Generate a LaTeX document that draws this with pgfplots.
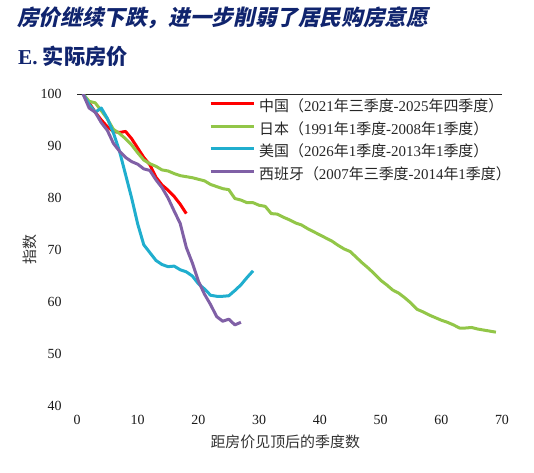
\documentclass[border=0pt]{standalone}
\usepackage{fontspec}
\setmainfont{Liberation Serif}
\newfontfamily\cjk{Noto Sans CJK SC}
\newfontfamily\cjkbi{Noto Sans CJK SC}[FakeSlant=0.22]
\usepackage{pgfplots}
\pgfplotsset{compat=1.18}
\definecolor{navy}{RGB}{16,36,110}
\definecolor{cred}{RGB}{255,0,0}
\definecolor{cgreen}{RGB}{146,198,72}
\definecolor{ccyan}{RGB}{32,174,206}
\definecolor{cpurple}{RGB}{128,96,166}
\begin{document}
\begin{tikzpicture}
\path[use as bounding box] (0,0) rectangle (534bp,473bp);
\node[anchor=west, text=navy, inner sep=0pt] at (17bp,455.5bp) {\fontsize{21.7}{24}\selectfont\cjkbi\bfseries 房价继续下跌，进一步削弱了居民购房意愿};
\node[anchor=west, text=navy, inner sep=0pt] at (18bp,417bp) {\fontsize{21.3}{24}\selectfont\bfseries E. {\cjk\bfseries 实际房价}};
\begin{axis}[
  at={(77bp,67bp)}, anchor=south west,
  scale only axis, width=425bp, height=312bp,
  xmin=0, xmax=70, ymin=40, ymax=100,
  axis line style={draw=none},
  major tick length=0pt,
  xtick={0,10,...,70}, ytick={40,50,...,100},
  /pgf/number format/assume math mode=true,
  tick label style={font=\fontsize{14}{16}\selectfont, text=black!90},
  xticklabel style={anchor=base, yshift=-18bp},
  yticklabel style={anchor=east, xshift=-12bp},
  xlabel={\cjk 距房价见顶后的季度数},
  ylabel={\cjk 指数},
  label style={font=\fontsize{15}{17}\selectfont, text=black!80},
  xlabel style={at={(axis description cs:0.49,-0.114)}, anchor=center},
  ylabel style={at={(axis description cs:-0.11,0.5)}, anchor=center},
  legend style={at={(axis description cs:0.3106,0.98)}, anchor=north west,
    draw=none, fill=none, inner sep=0pt, font=\fontsize{15}{17}\selectfont,
    nodes={inner sep=0pt, text height=11bp, text depth=3bp, text=black!85},
    /tikz/row sep=8.7bp, /tikz/column sep=4bp},
  legend cell align=left,
  legend image code/.code={\draw[#1] (0bp,4bp) -- (43bp,4bp);},
  every axis plot/.append style={line width=3bp, line join=round},
]
\addplot[black!85, line width=0.8pt, forget plot] coordinates {(0,100) (70,100)};
\addplot[cred] coordinates {
(1,100) (2,98.3) (3,96.5) (4,95) (5,93.7) (6,92.8) (7,92.6) (8,92.8) (9,91.4)
(10,89.6) (11,87.8) (12,86.4) (13,84) (14,82.5) (15,81.5) (16,80.3) (17,78.8) (18,77)};
\addlegendentry{{\cjk 中国（}2021{\cjk 年三季度}-2025{\cjk 年四季度）}}
\addplot[cgreen] coordinates {
(1,100) (2,98.6) (3,98.3) (4,96.8) (5,95.2) (6,93.2) (7,92.4) (8,91.4) (9,90.2)
(10,88.7) (11,87.3) (12,86.6) (13,86.1) (14,85.4) (15,85.2) (16,84.7) (17,84.3)
(18,84.1) (19,83.9) (20,83.6) (21,83.3) (22,82.6) (23,82.2) (24,81.8) (25,81.6)
(26,79.9) (27,79.6) (28,79.1) (29,79.1) (30,78.6) (31,78.4) (32,77.0) (33,76.9)
(34,76.3) (35,75.8) (36,75.2) (37,74.8) (38,74.1) (39,73.5) (40,72.9) (41,72.3)
(42,71.7) (43,70.9) (44,70.2) (45,69.7) (46,68.6) (47,67.5) (48,66.5) (49,65.4)
(50,64.2) (51,63.3) (52,62.3) (53,61.7) (54,60.8) (55,59.8) (56,58.6) (57,58.1)
(58,57.5) (59,57.0) (60,56.5) (61,56.1) (62,55.6) (63,55.0) (64,55.0) (65,55.1)
(66,54.8) (67,54.6) (68,54.4) (69,54.2)};
\addlegendentry{{\cjk 日本（}1991{\cjk 年}1{\cjk 季度}-2008{\cjk 年}1{\cjk 季度）}}
\addplot[ccyan] coordinates {
(1,100) (2,98) (3,96.5) (4,97.3) (5,95.3) (6,92.5) (7,89) (8,84.5) (9,80)
(10,75) (11,71) (12,69.5) (13,68) (14,67.2) (15,66.8) (16,66.9) (17,66.2)
(18,65.8) (19,65) (20,63.5) (21,62.5) (22,61.3) (23,61.1) (24,61.1) (25,61.2)
(26,62.2) (27,63.3) (28,64.7) (29,66)};
\addlegendentry{{\cjk 美国（}2026{\cjk 年}1{\cjk 季度}-2013{\cjk 年}1{\cjk 季度）}}
\addplot[cpurple] coordinates {
(1,100) (2,97.3) (3,96.5) (4,94.5) (5,93) (6,90.5) (7,89) (8,87.8) (9,87)
(10,86.5) (11,85.6) (12,85.3) (13,83.5) (14,82) (15,80) (16,77.5) (17,75.1)
(18,70.5) (19,67.5) (20,64) (21,61.5) (22,59.5) (23,57.2) (24,56.3) (25,56.7)
(26,55.6) (27,56.1)};
\addlegendentry{{\cjk 西班牙（}2007{\cjk 年三季度}-2014{\cjk 年}1{\cjk 季度）}}
\end{axis}
\end{tikzpicture}
\end{document}
